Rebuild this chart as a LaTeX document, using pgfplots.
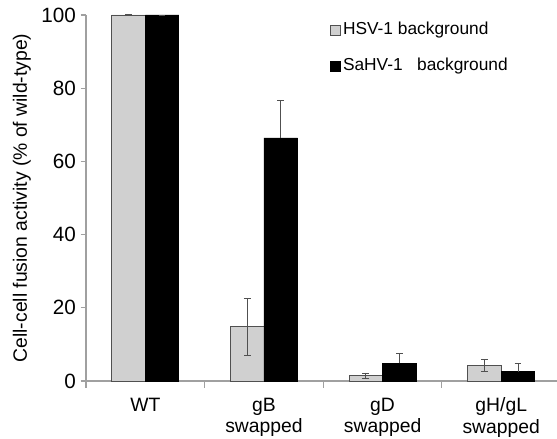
\documentclass[border=0pt]{standalone}
\usepackage{pgfplots}
\pgfplotsset{compat=1.18}
\usepackage{fontspec}
\setmainfont{Liberation Sans}

\definecolor{barGray}{HTML}{D0D0D0}
\definecolor{edgeGray}{HTML}{505050}
\definecolor{axisGray}{HTML}{A0A0A0}

% gray = HSV-1 background, black = SaHV-1 background
\pgfplotstableread{
x  hsv   hsverr  sahv  sahverr
0  100.0 0.2     100.0 0.0
1  14.8  7.8     66.4  10.2
2  1.4   0.8     4.8   2.8
3  4.2   1.7     2.5   2.4
}\fusiondata

\begin{document}
\begin{tikzpicture}[x=1pt,y=1pt]
\begin{axis}[
    at={(0,0)}, anchor=south west,
    scale only axis,
    width=353.25pt, height=274.5pt,
    font=\fontsize{13.5}{16}\selectfont,
    /pgf/number format/assume math mode=true,
    axis lines*=left,
    axis line style={axisGray, line width=0.8pt},
    xmin=-0.5, xmax=3.47,
    ymin=0, ymax=100,
    ytick={0,20,...,100},
    y tick label style={font=\fontsize{15.5}{18}\selectfont},
    y tick style={axisGray, line width=0.8pt},
    tick align=outside,
    major tick length=4pt,
    xtick={0,1,2,3},
    xticklabels={WT, gB\\swapped, gD\\swapped, gH/gL\\swapped},
    xticklabel style={align=center, text depth=0pt,
        font=\fontsize{14.5}{16}\selectfont},
    x tick label style={yshift=-5pt},
    major x tick style={draw=none},
    minor xtick={-0.5,0.5,1.5,2.5},
    minor x tick style={axisGray, line width=0.8pt},
    minor tick length=5pt,
    ylabel={Cell-cell fusion activity (\% of wild-type)},
    ylabel style={font=\fontsize{14.5}{17}\selectfont, yshift=1pt},
    ybar=0pt,
    bar width=0.283,
    legend style={draw=none, fill=none, at={(0.508,0.995)}, anchor=north west,
        font=\fontsize{13}{15}\selectfont, row sep=12pt,
        legend cell align=left},
    legend image code/.code={\draw[#1] (-1.5pt,-4pt) rectangle (6pt,3.5pt);},
    clip=false,
]
\addplot[fill=barGray, draw=edgeGray, line width=0.6pt,
    error bars/.cd, y dir=both, y explicit,
    error bar style={edgeGray, line width=0.6pt},
    error mark options={edgeGray, line width=0.6pt, mark size=2.5pt, rotate=90}]
    table[x=x, y=hsv, y error=hsverr] {\fusiondata};
\addlegendentry{HSV-1 background}
\addplot[fill=black, draw=black, line width=0.6pt,
    error bars/.cd, y dir=plus, y explicit,
    error bar style={edgeGray, line width=0.6pt},
    error mark options={edgeGray, line width=0.6pt, mark size=2.5pt, rotate=90}]
    table[x=x, y=sahv, y error=sahverr] {\fusiondata};
\addlegendentry{SaHV-1\ \ \ background}
\end{axis}
\pgfresetboundingbox
\path (-64.5pt,-43.5pt) rectangle (353.25pt,285.75pt);
\end{tikzpicture}
\end{document}
